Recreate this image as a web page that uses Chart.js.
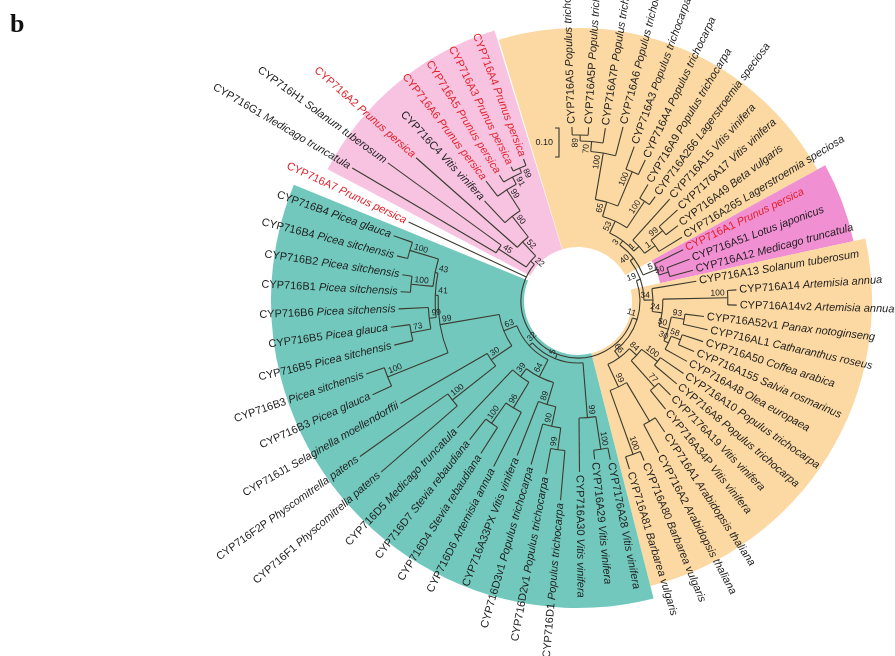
<!DOCTYPE html>
<html>
<head>
<meta charset="utf-8">
<title>CYP716 tree</title>
<script src="https://cdn.jsdelivr.net/npm/chart.js@4.4.1/dist/chart.umd.min.js"></script>
<style>
  html, body { margin: 0; padding: 0; background: #fff; }
  .box { position: relative; width: 895px; height: 656px; }
</style>
</head>
<body>
<div class="box"><canvas id="treeChart"></canvas></div>
<script>
// leaf labels, clockwise from the top
const genes = ['CYP716A5','CYP716A5P','CYP716A7P','CYP716A6','CYP716A3','CYP716A4','CYP716A9','CYP716A266','CYP716A15','CYP7176A17',
  'CYP716A49','CYP716A265','CYP716A1','CYP716A51','CYP716A12','CYP716A13','CYP716A14','CYP716A14v2','CYP716A52v1','CYP716AL1',
  'CYP716A50','CYP716A155','CYP716A48','CYP716A10','CYP716A8','CYP7176A19','CYP716A34P','CYP716A1','CYP716A2','CYP716A80',
  'CYP716A81','CYP7176A28','CYP716A29','CYP716A30','CYP716D1','CYP716D2v1','CYP716D3v1','CYP716A33PX','CYP716D6','CYP716D4',
  'CYP716D7','CYP716D5','CYP716F1','CYP716F2P','CYP716J1','CYP716B3','CYP716B3','CYP716B5','CYP716B5','CYP716B6',
  'CYP716B1','CYP716B2','CYP716B4','CYP716B4','CYP716A7','CYP716G1','CYP716H1','CYP716A2','CYP716C4','CYP716A6',
  'CYP716A5','CYP716A3','CYP716A4'];
const species = ['Populus trichocarpa','Populus trichocarpa','Populus trichocarpa','Populus trichocarpa','Populus trichocarpa','Populus trichocarpa','Populus trichocarpa','Lagerstroemia speciosa','Vitis vinifera','Vitis vinifera',
  'Beta vulgaris','Lagerstroemia speciosa','Prunus persica','Lotus japonicus','Medicago truncatula','Solanum tuberosum','Artemisia annua','Artemisia annua','Panax notoginseng','Catharanthus roseus',
  'Coffea arabica','Salvia rosmarinus','Olea europaea','Populus trichocarpa','Populus trichocarpa','Vitis vinifera','Vitis vinifera','Arabidopsis thaliana','Arabidopsis thaliana','Barbarea vulgaris',
  'Barbarea vulgaris','Vitis vinifera','Vitis vinifera','Vitis vinifera','Populus trichocarpa','Populus trichocarpa','Populus trichocarpa','Vitis vinifera','Artemisia annua','Stevia rebaudiana',
  'Stevia rebaudiana','Medicago truncatula','Physcomitrella patens','Physcomitrella patens','Selaginella moellendorffii','Picea glauca','Picea sitchensis','Picea sitchensis','Picea glauca','Picea sitchensis',
  'Picea sitchensis','Picea sitchensis','Picea sitchensis','Picea glauca','Prunus persica','Medicago truncatula','Solanum tuberosum','Prunus persica','Vitis vinifera','Prunus persica',
  'Prunus persica','Prunus persica','Prunus persica'];
const redLeaves = [12, 54, 57, 59, 60, 61, 62];

// tree in newick, leaves are indexes into genes, inner labels are bootstrap values
const popTop = '(((0:0.028,1:0.028)89:0.021,2:0.052)70:0.034,3:0.103)100:0.162';
const orangeTop = `(((${popTop},(4:0.083,5:0.055)100:0.128)65:0.052,(6:0.055,7:0.034)100:0.110)53:0.045,(8:0.190,((9:0.086,10:0.052)99:0.052,11:0.093)1:0.045)1:0.024)3:0.017`;
const pinkRight = '(12:0.110,(13:0.083,14:0.083)50:0.034)5:0.052';
const orangeRight1 = '(15:0.155,((16:0.031,17:0.031)100:0.224,((18:0.066,19:0.086)93:0.045,((20:0.076,21:0.059)58:0.034,22:0.086)30:0.017)50:0.034)24:0.034)34:0.031';
const orangeRight2 = '(((23:0.097,24:0.100)100:0.069,(25:0.059,26:0.083)77:0.121)84:0.034,((27:0.059,28:0.110):0.155,(29:0.034,30:0.045)100:0.234)99:0.086)66:0.028';
const orange = `(((${orangeTop},${pinkRight})40:0.014,${orangeRight1})19:0.014,${orangeRight2})11:0.017`;
const tealA = '((31:0.041,32:0.031)100:0.114,33:0.186)99:0.190';
const tealD = '((((34:0.172,35:0.090)99:0.076,36:0.145)90:0.069,37:0.200)89:0.079,((38:0.210,(39:0.107,40:0.090)100:0.086)96:0.103,41:0.276)39:0.034)64:0.066';
const tealFJ = '((42:0.348,43:0.372)100:0.190,44:0.345)30:0.086';
const tealB = '((45:0.072,46:0.066)100:0.224,(((47:0.066,48:0.066)73:0.069,49:0.103)99:0.024,((50:0.034,51:0.034)100:0.076,(52:0.038,53:0.069)100:0.103)43:0.010)41:0.010)99:0.207';
const teal = `(${tealA},(${tealD},(${tealFJ},${tealB})63:0.048)32:0.014)5:0.017`;
const pinkLeft = '((55:0.576,56:0.483)45:0.114,(57:0.466,(58:0.103,(59:0.066,(60:0.028,(61:0.017,62:0.024)89:0.017)91:0.028)99:0.086)90:0.090)52:0.066)22:0.017';
const treeNewick = `(${orange},${teal},54:0.448,${pinkLeft});`;

// coloured clade wedges, in leaf positions
const sectorFrom = [-2.7, 11.5, 14.5, 30.5, 54.5];
const sectorTo = [11.5, 14.5, 30.5, 53.5, 62.7];
const scaleBarValue = 0.10;

// layout
const CX = 578, CY = 301, R0 = 57, PX_PER_UNIT = 290;
const START_DEG = -2, STEP_DEG = 5.5;
const sectorStyle = [
  { color: '#fcd9a2', rIn: 54, rOut: 273 },
  { color: '#f18fd3', rIn: 84, rOut: 282 },
  { color: '#fcd9a2', rIn: 54, rOut: 294 },
  { color: '#73c8bd', rIn: 54, rOut: 307 },
  { color: '#f7c3e1', rIn: 54, rOut: 283 }
];

function parseNewick(s) {
  let i = 0;
  function node() {
    const n = { children: [], label: '', len: 0 };
    if (s[i] === '(') {
      i++;
      n.children.push(node());
      while (s[i] === ',') { i++; n.children.push(node()); }
      i++;
    }
    let name = '';
    while (i < s.length && !',():;'.includes(s[i])) name += s[i++];
    if (s[i] === ':') {
      i++;
      let num = '';
      while (i < s.length && !',();'.includes(s[i])) num += s[i++];
      n.len = parseFloat(num);
    }
    if (n.children.length) n.label = name; else n.leaf = parseInt(name, 10);
    return n;
  }
  return node();
}

const root = parseNewick(treeNewick);
const allNodes = [];
function layout(n, depth) {
  n.depth = depth + n.len;
  n.r = R0 + n.depth * PX_PER_UNIT;
  n.children.forEach(c => layout(c, n.depth));
  if (n.children.length) {
    n.angle = (n.children[0].angle + n.children[n.children.length - 1].angle) / 2;
  } else {
    n.angle = START_DEG + n.leaf * STEP_DEG;
  }
  allNodes.push(n);
}
layout(root, 0);
const leaves = allNodes.filter(n => !n.children.length).sort((a, b) => a.leaf - b.leaf);

const rad = d => d * Math.PI / 180;
const leafPoints = leaves.map(n => ({ x: CX + n.r * Math.sin(rad(n.angle)), y: CY - n.r * Math.cos(rad(n.angle)) }));

const treePlugin = {
  id: 'tree',
  beforeDatasetsDraw(chart) {
    const ctx = chart.ctx;
    const xs = chart.scales.x, ys = chart.scales.y;
    const cx = xs.getPixelForValue(CX), cy = ys.getPixelForValue(CY);
    const k = xs.getPixelForValue(CX + 1) - cx;
    const pos = (r, deg) => [xs.getPixelForValue(CX + r * Math.sin(rad(deg))), ys.getPixelForValue(CY - r * Math.cos(rad(deg)))];
    const canvasAng = deg => rad(deg - 90);
    const leafDeg = p => START_DEG + p * STEP_DEG;

    ctx.save();
    // wedges
    sectorFrom.forEach((f, i) => {
      const st = sectorStyle[i];
      const a1 = canvasAng(leafDeg(f)), a2 = canvasAng(leafDeg(sectorTo[i]));
      ctx.beginPath();
      ctx.arc(cx, cy, st.rOut * k, a1, a2);
      ctx.arc(cx, cy, st.rIn * k, a2, a1, true);
      ctx.closePath();
      ctx.fillStyle = st.color;
      ctx.fill();
    });

    // branches
    ctx.strokeStyle = '#3b3b30';
    ctx.lineWidth = 1.1;
    allNodes.forEach(n => {
      if (!n.children.length) return;
      const first = n.children[0], last = n.children[n.children.length - 1];
      ctx.beginPath();
      ctx.arc(cx, cy, n.r * k, canvasAng(first.angle), canvasAng(last.angle));
      ctx.stroke();
      n.children.forEach(c => {
        const p1 = pos(n.r, c.angle), p2 = pos(c.r, c.angle);
        ctx.beginPath();
        ctx.moveTo(p1[0], p1[1]);
        ctx.lineTo(p2[0], p2[1]);
        ctx.stroke();
      });
    });

    // bootstrap values
    ctx.fillStyle = '#222';
    ctx.font = '8.5px "Liberation Sans", Arial, sans-serif';
    allNodes.forEach(n => {
      if (!n.label || n === root) return;
      const flip = n.angle > 180;
      const p = pos(n.r - 3, n.angle);
      ctx.save();
      ctx.translate(p[0], p[1]);
      ctx.rotate(rad(flip ? n.angle - 270 : n.angle - 90));
      ctx.textAlign = flip ? 'left' : 'right';
      ctx.textBaseline = 'bottom';
      ctx.fillText(n.label, 0, -0.5);
      ctx.restore();
    });

    // leaf labels
    const fontN = '11px "Liberation Sans", Arial, sans-serif';
    const fontI = 'italic 11px "Liberation Sans", Arial, sans-serif';
    leaves.forEach(n => {
      const i = n.leaf;
      const flip = n.angle > 180;
      const p = pos(n.r + 3, n.angle);
      const g = genes[i] + ' ', sp = species[i];
      ctx.font = fontN; const wg = ctx.measureText(g).width;
      ctx.font = fontI; const ws = ctx.measureText(sp).width;
      ctx.save();
      ctx.translate(p[0], p[1]);
      ctx.rotate(rad(flip ? n.angle - 270 : n.angle - 90));
      ctx.textAlign = 'left';
      ctx.textBaseline = 'middle';
      ctx.fillStyle = redLeaves.includes(i) ? '#e3232b' : '#1e1e1e';
      const x0 = flip ? -(wg + ws) : 0;
      ctx.font = fontN; ctx.fillText(g, x0, 0);
      ctx.font = fontI; ctx.fillText(sp, x0 + wg, 0);
      ctx.restore();
    });

    // scale bar
    const sx = xs.getPixelForValue(559), sy1 = ys.getPixelForValue(128);
    const sy2 = ys.getPixelForValue(128 + scaleBarValue * PX_PER_UNIT);
    ctx.strokeStyle = '#333';
    ctx.beginPath();
    ctx.moveTo(sx - 4, sy1); ctx.lineTo(sx, sy1); ctx.lineTo(sx, sy2); ctx.lineTo(sx - 4, sy2);
    ctx.stroke();
    ctx.fillStyle = '#222';
    ctx.font = '9px "Liberation Sans", Arial, sans-serif';
    ctx.textAlign = 'right';
    ctx.textBaseline = 'middle';
    ctx.fillText(scaleBarValue.toFixed(2), sx - 6, (sy1 + sy2) / 2);

    // panel letter
    ctx.fillStyle = '#111';
    ctx.font = 'bold 26px "Liberation Serif", "Times New Roman", serif';
    ctx.textAlign = 'left';
    ctx.textBaseline = 'alphabetic';
    ctx.fillText('b', 10, 32);
    ctx.restore();
  }
};

new Chart(document.getElementById('treeChart'), {
  type: 'scatter',
  data: { datasets: [{ data: leafPoints, pointRadius: 0, showLine: false }] },
  options: {
    responsive: true,
    maintainAspectRatio: false,
    animation: false,
    layout: { padding: 0 },
    plugins: { legend: { display: false }, tooltip: { enabled: false } },
    scales: {
      x: { type: 'linear', min: 0, max: 895, display: false },
      y: { type: 'linear', min: 0, max: 656, reverse: true, display: false }
    }
  },
  plugins: [treePlugin]
});
</script>
</body>
</html>
